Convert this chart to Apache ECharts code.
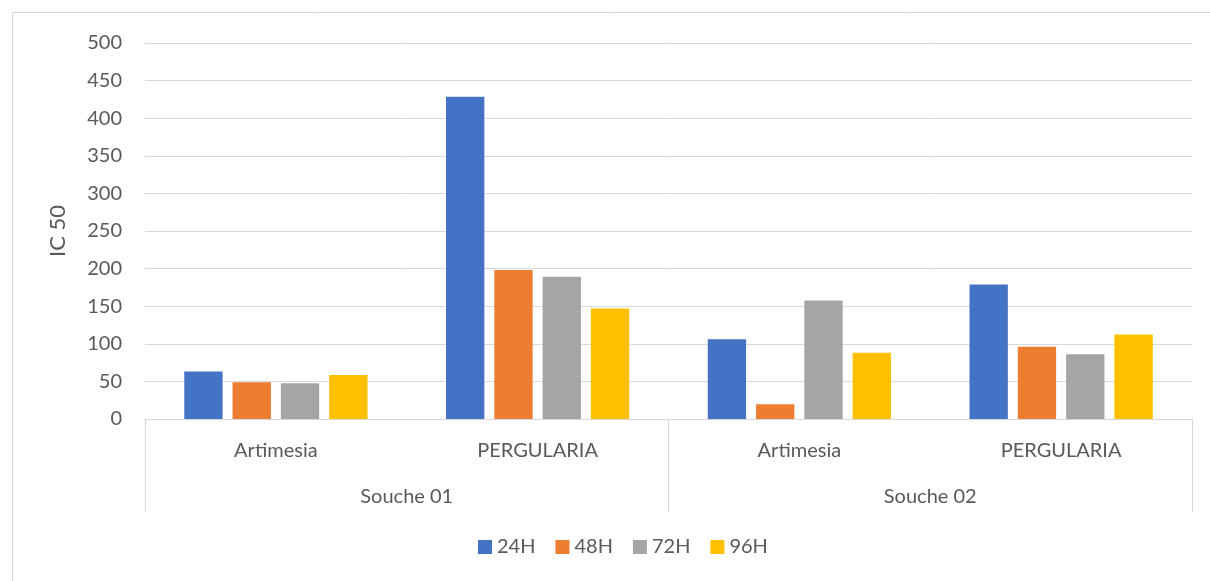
<!DOCTYPE html>
<html>
<head>
<meta charset="utf-8">
<script src="https://cdn.jsdelivr.net/npm/echarts@6/dist/echarts.min.js"></script>
<style>
html,body{margin:0;padding:0;background:#fff;}
#c{width:1210px;height:581px;}
</style>
</head>
<body>
<div id="c"></div>
<script>
const categories = ['Artimesia', 'PERGULARIA', 'Artimesia', 'PERGULARIA'];
const groups = ['Souche 01', 'Souche 02'];
const seriesNames = ['24H', '48H', '72H', '96H'];
const v24 = [63, 428.5, 106, 179];
const v48 = [49, 198, 19.5, 96];
const v72 = [47.5, 189, 157.5, 86];
const v96 = [58.5, 147, 88, 112.5];
const yTicks = {min: 0, max: 500, interval: 50};
const colors = ['#4472C4', '#ED7D31', '#A5A5A5', '#FFC000'];

const font = 'Lato, "Open Sans", sans-serif';
const values = [v24, v48, v72, v96];
const chart = echarts.init(document.getElementById('c'), null, {renderer: 'canvas'});
chart.setOption({
  animation: false,
  textStyle: {fontFamily: font},
  graphic: [{
    type: 'rect', silent: true,
    shape: {x: 12.5, y: 12.5, width: 1220, height: 600},
    style: {fill: 'none', stroke: '#D9D9D9', lineWidth: 1}
  }],
  grid: {left: 145, right: 18, top: 43, bottom: 162, containLabel: false},
  legend: {
    data: seriesNames, bottom: 19, left: 473,
    icon: 'rect', itemWidth: 14, itemHeight: 14, itemGap: 20,
    textStyle: {fontSize: 20, color: '#595959', fontFamily: font}
  },
  xAxis: [{
    type: 'category', data: categories, position: 'bottom',
    axisLine: {show: true, lineStyle: {color: '#D9D9D9', width: 1}},
    axisTick: {show: false},
    axisLabel: {fontSize: 20, color: '#595959', margin: 22, fontFamily: font}
  }, {
    type: 'category', data: groups, position: 'bottom',
    axisLine: {show: false},
    axisTick: {show: true, length: 93, lineStyle: {color: '#D9D9D9', width: 1}},
    axisLabel: {fontSize: 20, color: '#595959', margin: 68, fontFamily: font},
    splitLine: {show: false}
  }],
  yAxis: {
    type: 'value', min: yTicks.min, max: yTicks.max, interval: yTicks.interval,
    name: 'IC 50', nameLocation: 'middle', nameGap: 76, nameRotate: 90,
    nameTextStyle: {fontSize: 22, color: '#595959', fontFamily: font},
    axisLine: {show: false}, axisTick: {show: false},
    axisLabel: {fontSize: 20, color: '#595959', margin: 23, fontFamily: font},
    splitLine: {lineStyle: {color: '#D9D9D9', width: 1}}
  },
  series: seriesNames.map((n, i) => ({
    name: n, type: 'bar', xAxisIndex: 0, data: values[i],
    barGap: '26%', barCategoryGap: '30%',
    itemStyle: {color: colors[i]}
  }))
});
</script>
</body>
</html>
